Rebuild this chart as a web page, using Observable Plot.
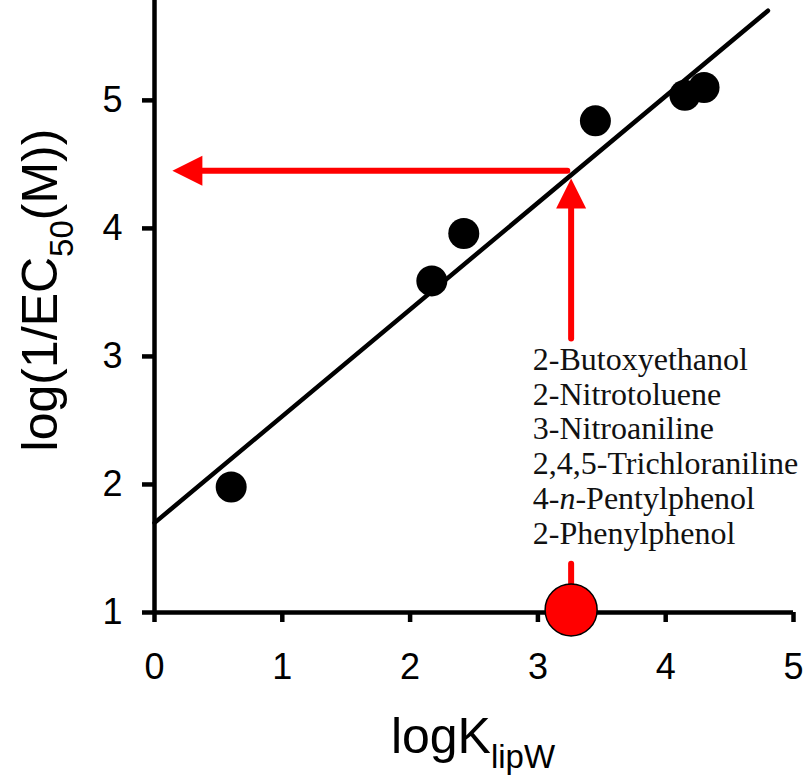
<!DOCTYPE html>
<html><head><meta charset="utf-8">
<script src="https://cdn.jsdelivr.net/npm/d3@7"></script>
<script src="https://cdn.jsdelivr.net/npm/@observablehq/plot@0.6"></script>
<style>body{margin:0;background:#fff}</style>
</head><body><div id="chart"></div>
<script>
// Data
const logK = [0.60, 2.17, 2.42, 3.45, 4.15, 4.30];
const logInvEC50 = [1.98, 3.59, 3.96, 4.84, 5.04, 5.10];
const fitX = [0, 4.80];
const fitY = [1.70, 5.70];
const xTicks = [0, 1, 2, 3, 4, 5];
const yTicks = [1, 2, 3, 4, 5];
const compounds = ["2-Butoxyethanol", "2-Nitrotoluene", "3-Nitroaniline", "2,4,5-Trichloraniline", "4-n-Pentylphenol", "2-Phenylphenol"];
// mixture query point and prediction arrows (data units)
const queryX = 3.26, queryY = 1.02;
const predictedY = 4.45;           // horizontal arrow level
const hArrowX = [3.23, 0.25];      // line extent, tip at 0.14
const hArrowTip = 0.14;
const vArrowLower = [1.02, 1.38];  // segment below the list
const vArrowUpper = [3.14, 4.30];  // segment above the list, tip at 4.39
const vArrowTip = 4.39;
const listX = 2.96, listY = 3.09;

const points = logK.map((x, i) => ({x, y: logInvEC50[i]}));
const fit = fitX.map((x, i) => ({x, y: fitY[i]}));

// tip-anchored triangle symbols
const triUp = {draw(ctx, size) { const r = Math.sqrt(size / Math.PI); ctx.moveTo(0, 0); ctx.lineTo(-r, 2 * r); ctx.lineTo(r, 2 * r); ctx.closePath(); }};
const triLeft = {draw(ctx, size) { const r = Math.sqrt(size / Math.PI); ctx.moveTo(0, 0); ctx.lineTo(2 * r, -r); ctx.lineTo(2 * r, r); ctx.closePath(); }};

const red = "#ff0000";
const plot = Plot.plot({
  width: 808, height: 775,
  marginLeft: 154, marginRight: 15, marginTop: 0, marginBottom: 163,
  style: {fontFamily: "'Liberation Sans', Arial, sans-serif", background: "white", overflow: "visible"},
  x: {domain: [0, 5]},
  y: {domain: [1, 5.78]},
  marks: [
    Plot.axisX({ticks: xTicks, tickFormat: d => String(d), tickSize: 10, tickPadding: 31, fontSize: 36, strokeWidth: 4.5, label: null}),
    Plot.axisY({ticks: yTicks, tickFormat: d => String(d), tickSize: 12, tickPadding: 20, fontSize: 36, strokeWidth: 4.5, label: null}),
    Plot.ruleX([0], {strokeWidth: 4.5}),
    Plot.ruleY([1], {strokeWidth: 4.5}),
    Plot.line(fit, {x: "x", y: "y", strokeWidth: 4.5, stroke: "black"}),
    Plot.dot(points, {x: "x", y: "y", r: 15.5, fill: "black", stroke: "none"}),
    Plot.line([{x: hArrowX[0], y: predictedY}, {x: hArrowX[1], y: predictedY}], {x: "x", y: "y", stroke: red, strokeWidth: 6}),
    Plot.dot([{x: hArrowTip, y: predictedY}], {x: "x", y: "y", symbol: triLeft, r: 15, fill: red, stroke: "none"}),
    Plot.line([{x: queryX, y: vArrowLower[0]}, {x: queryX, y: vArrowLower[1]}], {x: "x", y: "y", stroke: red, strokeWidth: 6}),
    Plot.line([{x: queryX, y: vArrowUpper[0]}, {x: queryX, y: vArrowUpper[1]}], {x: "x", y: "y", stroke: red, strokeWidth: 6}),
    Plot.dot([{x: queryX, y: vArrowTip}], {x: "x", y: "y", symbol: triUp, r: 15, fill: red, stroke: "none"}),
    Plot.dot([{x: queryX, y: queryY}], {x: "x", y: "y", r: 26, fill: red, stroke: "black", strokeWidth: 1.5}),
    Plot.text([compounds.join("\n")], {x: listX, y: listY, text: d => d, textAnchor: "start", lineAnchor: "top", lineHeight: 1.09, fontSize: 32, fontFamily: "'Liberation Serif', 'Times New Roman', serif", fill: "#111"})
  ]
});
document.getElementById("chart").appendChild(plot);

const svg = d3.select(plot);
// italic n in 4-n-Pentylphenol
svg.selectAll("tspan").filter(function() { return this.textContent === "4-n-Pentylphenol"; }).each(function() {
  const t = d3.select(this);
  t.text("");
  t.append("tspan").text("4-");
  t.append("tspan").attr("font-style", "italic").text("n");
  t.append("tspan").text("-Pentylphenol");
});

// axis titles with subscripts
const xt = svg.append("text").attr("x", 473).attr("y", 753).attr("text-anchor", "middle")
  .attr("font-size", 50).attr("fill", "black");
xt.append("tspan").text("logK");
xt.append("tspan").attr("font-size", 33).attr("dy", 15).text("lipW");

const yt = svg.append("text").attr("transform", "translate(57,290) rotate(-90)").attr("text-anchor", "middle")
  .attr("font-size", 50).attr("fill", "black");
yt.append("tspan").text("log(1/EC");
yt.append("tspan").attr("font-size", 33).attr("dy", 16).text("50");
yt.append("tspan").attr("dy", -16).text("(M))");
</script>
</body></html>
